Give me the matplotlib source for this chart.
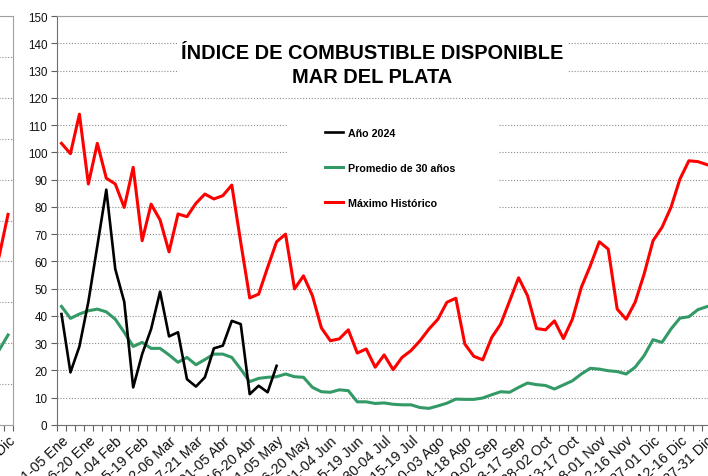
# -*- coding: utf-8 -*-
"""
Indice de combustible disponible - Mar del Plata
"""

import numpy as np
import matplotlib
matplotlib.use('Agg')
import matplotlib.pyplot as plt
from matplotlib.patches import Rectangle

plt.rcParams['font.family'] = ['Liberation Sans', 'DejaVu Sans']

# pentad labels shown on the x axis (every 3rd of 73 pentads)
tick_labels = ['01-05 Ene', '16-20 Ene', '31-04 Feb', '15-19 Feb', '02-06 Mar',
               '17-21 Mar', '01-05 Abr', '16-20 Abr', '01-05 May', '16-20 May',
               '31-04 Jun', '15-19 Jun', '30-04 Jul', '15-19 Jul', '30-03 Ago',
               '14-18 Ago', '29-02 Sep', '13-17 Sep', '28-02 Oct', '13-17 Oct',
               '28-01 Nov', '12-16 Nov', '27-01 Dic', '12-16 Dic', '27-31 Dic']
n_pentads = 73

anio_2024 = [40.7, 19.3, 28.8, 45.2, 65.7, 86.3, 57.2, 45.2, 13.8, 26.0,
             35.2, 48.9, 32.5, 34.0, 16.8, 14.1, 17.5, 28.1, 29.1, 38.2,
             37.0, 11.3, 14.4, 12.0, 21.7]

promedio_30 = [43.5, 39.1, 40.7, 41.9, 42.5, 41.5, 38.8, 34.0, 28.8, 30.3,
               28.1, 28.1, 25.7, 23.0, 24.8, 22.1, 24.0, 26.0, 26.0, 24.8,
               20.5, 15.9, 17.1, 17.5, 17.7, 18.7, 17.7, 17.5, 13.8, 12.2,
               12.0, 12.9, 12.6, 8.5, 8.5, 7.9, 8.1, 7.6, 7.4, 7.4,
               6.4, 6.1, 7.0, 8.0, 9.5, 9.4, 9.4, 9.9, 11.1, 12.2,
               12.0, 13.8, 15.4, 14.8, 14.5, 13.2, 14.7, 16.2, 18.7, 20.8,
               20.5, 19.9, 19.6, 18.7, 21.2, 25.4, 31.3, 30.3, 35.2, 39.2,
               39.7, 42.3, 43.4]

maximo_hist = [103.3, 99.5, 114.0, 88.4, 103.3, 90.5, 88.4, 79.8, 94.5, 67.6,
               81.0, 75.2, 63.5, 77.4, 76.4, 81.3, 84.7, 82.9, 84.1, 88.0,
               67.0, 46.6, 48.0, 57.8, 67.2, 70.0, 49.9, 54.7, 47.4, 35.6,
               30.9, 31.6, 34.9, 26.4, 27.9, 21.2, 25.7, 20.3, 24.8, 27.3,
               30.9, 35.2, 38.8, 45.0, 46.5, 29.7, 25.2, 23.9, 32.1, 37.0,
               45.5, 54.0, 47.4, 35.4, 34.9, 38.2, 31.7, 38.8, 50.5, 58.4,
               67.2, 64.5, 42.5, 38.8, 45.0, 55.3, 67.6, 72.5, 79.8, 90.2,
               96.9, 96.6, 95.5]

# tail end of the neighbouring chart, visible at the left edge
vecino_max = [41.2, 51.5]
vecino_prom = [18.3, 22.0]

W, H = 708, 477
fig = plt.figure(figsize=(W / 100, H / 100), dpi=100)

def px_axes(left, top, right, bottom):
    return [left / W, 1 - bottom / H, (right - left) / W, (bottom - top) / H]

grid_kw = dict(color='#8c8c8c', linestyle=(0, (1, 1.6)), linewidth=0.8)
spine_col = '#a0a0a0'

def style_cat_axis(a, show_labels=True):
    a.set_xlim(-0.5, n_pentads - 0.5)
    a.set_xticks(np.arange(0, n_pentads, 3))
    a.set_xticks(np.arange(-0.5, n_pentads, 1), minor=True)
    a.tick_params(axis='x', which='major', length=0, pad=6)
    a.tick_params(axis='x', which='minor', length=4, width=0.8,
                  color='#606060', direction='out')
    if show_labels:
        a.set_xticklabels(tick_labels, rotation=43, ha='right', va='top',
                          rotation_mode='anchor', fontsize=10.3,
                          color='#111111')
    a.set_axisbelow(True)

# ---- neighbouring chart (cut off) ----
step = 654.3 / n_pentads
axl = fig.add_axes(px_axes(12.5 - n_pentads * step, 17, 12.5, 426))
axl.plot([71, 72], vecino_max, color='#ff0000', lw=2.2)
axl.plot([71, 72], vecino_prom, color='#339966', lw=2.2)
axl.set_ylim(0, 100)
axl.set_yticks(np.arange(0, 101, 10))
axl.set_yticklabels([])
axl.tick_params(axis='y', length=0)
axl.grid(axis='y', **grid_kw)
style_cat_axis(axl)
for s in axl.spines.values():
    s.set_color(spine_col)

# ---- main chart ----
ax = fig.add_axes(px_axes(57, 17, 57 + n_pentads * step, 426))
x = np.arange(n_pentads)
ax.plot(x[:len(anio_2024)], anio_2024, color='black', lw=1.9,
        label='Año 2024', zorder=3)
ax.plot(x, promedio_30, color='#339966', lw=2.2,
        label='Promedio de 30 años', zorder=2)
ax.plot(x, maximo_hist, color='#ff0000', lw=2.2,
        label='Máximo Histórico', zorder=2)

ax.set_ylim(0, 150)
ax.set_yticks(np.arange(0, 151, 10))
ax.tick_params(axis='y', length=4, width=0.8, color='#606060',
               labelsize=8.4, labelcolor='#111111', pad=3)
ax.grid(axis='y', **grid_kw)
style_cat_axis(ax)
for s in ax.spines.values():
    s.set_color(spine_col)
ax.spines['left'].set_color('#707070')
ax.spines['bottom'].set_color('#707070')

# white box behind the legend (covers the grid)
ax.add_patch(Rectangle((287 / W, 1 - 225 / H), 211 / W, 120 / H,
                       transform=fig.transFigure, facecolor='white',
                       edgecolor='none', zorder=1))
leg = ax.legend(loc='center left', bbox_to_anchor=(325 / W, 1 - 169 / H),
                bbox_transform=fig.transFigure, frameon=False,
                prop={'weight': 'bold', 'size': 7.7}, handlelength=1.7,
                handletextpad=0.45, labelspacing=2.35, borderpad=0,
                borderaxespad=0)
leg.set_zorder(5)

ax.text(372.5 / W, 1 - 65.5 / H,
        'ÍNDICE DE COMBUSTIBLE DISPONIBLE\nMAR DEL PLATA',
        transform=fig.transFigure, ha='center', va='center', fontsize=14.4,
        fontweight='bold', linespacing=1.28, zorder=4,
        bbox=dict(facecolor='white', edgecolor='none', pad=3))

fig.savefig('out.png', dpi=100)
